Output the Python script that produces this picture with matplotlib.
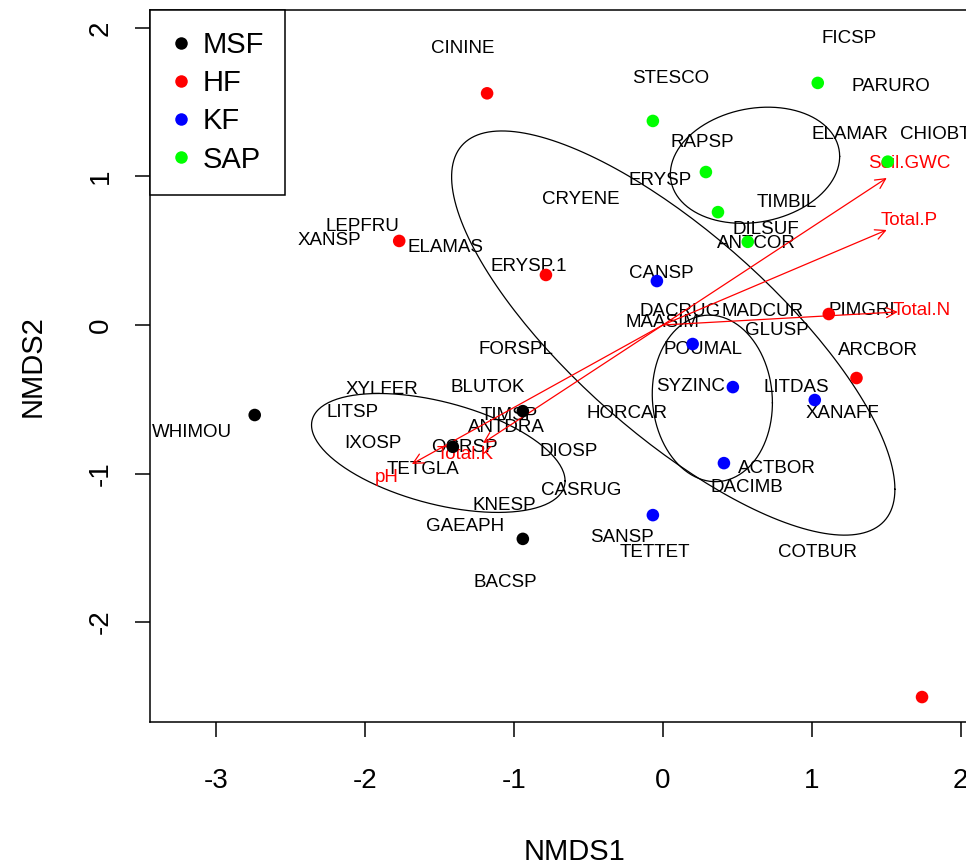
import numpy as np
import matplotlib
matplotlib.use('Agg')
import matplotlib.pyplot as plt
from matplotlib.lines import Line2D
from matplotlib.patches import FancyArrowPatch

plt.rcParams['font.family'] = ['Liberation Sans', 'DejaVu Sans']

# ---------------- data ----------------
groups = ['MSF', 'HF', 'KF', 'SAP']
group_colors = ['#000000', '#ff0000', '#0000ff', '#00ff00']

msf_x = [-2.74, -0.94, -1.41, -0.94]
msf_y = [-0.606, -0.58, -0.82, -1.44]
hf_x = [-1.18, -1.77, -0.785, 1.114, 1.30, 1.74]
hf_y = [1.56, 0.566, 0.337, 0.074, -0.357, -2.505]
kf_x = [-0.04, 0.20, 0.47, 1.02, 0.41, -0.067]
kf_y = [0.296, -0.128, -0.418, -0.505, -0.93, -1.28]
sap_x = [-0.067, 1.04, 0.289, 0.37, 0.57, 1.51]
sap_y = [1.374, 1.63, 1.03, 0.76, 0.56, 1.10]

species = ['CININE', 'STESCO', 'FICSP', 'PARURO', 'ELAMAR', 'CHIOBT', 'RAPSP',
           'ERYSP', 'CRYENE', 'TIMBIL', 'DILSUF', 'ANTCOR', 'LEPFRU', 'XANSP',
           'ELAMAS', 'ERYSP.1', 'CANSP', 'DACRUG', 'MADCUR', 'MAASIM', 'GLUSP',
           'PIMGRI', 'POUMAL', 'FORSPL', 'ARCBOR', 'XYLFER', 'BLUTOK', 'SYZINC',
           'LITDAS', 'LITSP', 'HORCAR', 'XANAFF', 'TIMSP', 'ANTDRA', 'WHIMOU',
           'IXOSP', 'OCRSP', 'DIOSP', 'TETGLA', 'ACTBOR', 'DACIMB', 'CASRUG',
           'KNESP', 'GAEAPH', 'SANSP', 'TETTET', 'COTBUR', 'BACSP']
species_x = [-1.342, 0.054, 1.248, 1.530, 1.255, 1.826, 0.262,
             -0.020, -0.550, 0.832, 0.691, 0.631, -2.020, -2.242,
             -1.456, -0.899, -0.007, 0.114, 0.671, 0.000, 0.765,
             1.336, 0.268, -0.987, 1.443, -1.886, -1.174, 0.188,
             0.899, -2.081, -0.242, 1.208, -1.030, -1.047, -3.161,
             -1.946, -1.329, -0.631, -1.611, 0.765, 0.564, -0.550,
             -1.067, -1.329, -0.275, -0.054, 1.040, -1.060]
species_y = [1.865, 1.663, 1.926, 1.609, 1.286, 1.286, 1.232,
             0.976, 0.848, 0.822, 0.640, 0.552, 0.660, 0.572,
             0.525, 0.391, 0.350, 0.088, 0.088, 0.020, -0.034,
             0.101, -0.168, -0.162, -0.175, -0.431, -0.424, -0.411,
             -0.424, -0.586, -0.599, -0.593, -0.606, -0.687, -0.721,
             -0.795, -0.822, -0.855, -0.976, -0.963, -1.091, -1.111,
             -1.212, -1.354, -1.428, -1.535, -1.535, -1.737]

env_names = ['Soil.GWC', 'Total.P', 'Total.N', 'Total.K', 'pH']
env_x = [1.503, 1.503, 1.577, -1.208, -1.685]
env_y = [0.990, 0.640, 0.088, -0.795, -0.936]

x_ticks = [-3, -2, -1, 0, 1, 2]
y_ticks = [-2, -1, 0, 1, 2]

group_x = [msf_x, hf_x, kf_x, sap_x]
group_y = [msf_y, hf_y, kf_y, sap_y]

# ---------------- figure ----------------
W, H = 966, 868
fig = plt.figure(figsize=(W / 100, H / 100), dpi=100)
left_px, right_px, top_px, bottom_px = 150, 998, 10, 722
ax = fig.add_axes([left_px / W, 1 - bottom_px / H,
                   (right_px - left_px) / W, (bottom_px - top_px) / H])
ax.set_xlim(-3.443, 2.25)
ax.set_ylim(-2.673, 2.121)


def cov_ellipse(x, y, n=200):
    pts = np.column_stack([x, y])
    c = pts.mean(axis=0)
    cov = np.cov(pts, rowvar=False)
    L = np.linalg.cholesky(cov)
    t = np.linspace(0, 2 * np.pi, n)
    circ = np.column_stack([np.cos(t), np.sin(t)])
    return c + circ @ L.T


# ellipses (sd ellipses of each group)
for gx, gy in zip(group_x, group_y):
    e = cov_ellipse(gx, gy)
    ax.plot(e[:, 0], e[:, 1], color='black', lw=0.9, zorder=2)

# species labels
for name, sx, sy in zip(species, species_x, species_y):
    ax.text(sx, sy, name, ha='center', va='center', fontsize=13.5,
            color='black', zorder=3)

# environmental vectors
for name, ex, ey in zip(env_names, env_x, env_y):
    arr = FancyArrowPatch((0, 0), (ex, ey),
                          arrowstyle='->,head_length=0.6,head_width=0.3',
                          mutation_scale=12, color='red', lw=0.9,
                          shrinkA=0, shrinkB=0, zorder=4)
    ax.add_patch(arr)
    ax.text(ex * 1.1, ey * 1.1, name, ha='center', va='center',
            fontsize=13.5, color='red', zorder=4)

# site points
for gx, gy, col in zip(group_x, group_y, group_colors):
    ax.scatter(gx, gy, s=82, color=col, edgecolors='none', zorder=5)

# axes styling
ax.set_xticks(x_ticks)
ax.set_yticks(y_ticks)
ax.set_xticklabels([str(v) for v in x_ticks])
ax.set_yticklabels([str(v) for v in y_ticks], rotation=90, va='center')
ax.tick_params(axis='both', length=11, width=1.1, labelsize=20, color='black')
ax.tick_params(axis='x', pad=22)
ax.tick_params(axis='y', pad=15)
for sp in ax.spines.values():
    sp.set_linewidth(1.1)
ax.set_xlabel('NMDS1', fontsize=21, labelpad=32)
ax.set_ylabel('NMDS2', fontsize=21, labelpad=30)

# legend
handles = [Line2D([0], [0], marker='o', linestyle='none', markersize=9,
                  markerfacecolor=c, markeredgecolor='none') for c in group_colors]
leg = ax.legend(handles, groups, loc='upper left', bbox_to_anchor=(0, 1),
                borderaxespad=0, fontsize=21, frameon=True, fancybox=False,
                edgecolor='black', framealpha=1, borderpad=0.72,
                labelspacing=0.35, handlelength=0.7, handletextpad=0.4)
leg.get_frame().set_linewidth(1.1)
leg.set_zorder(10)

fig.savefig('out.png', dpi=100)
